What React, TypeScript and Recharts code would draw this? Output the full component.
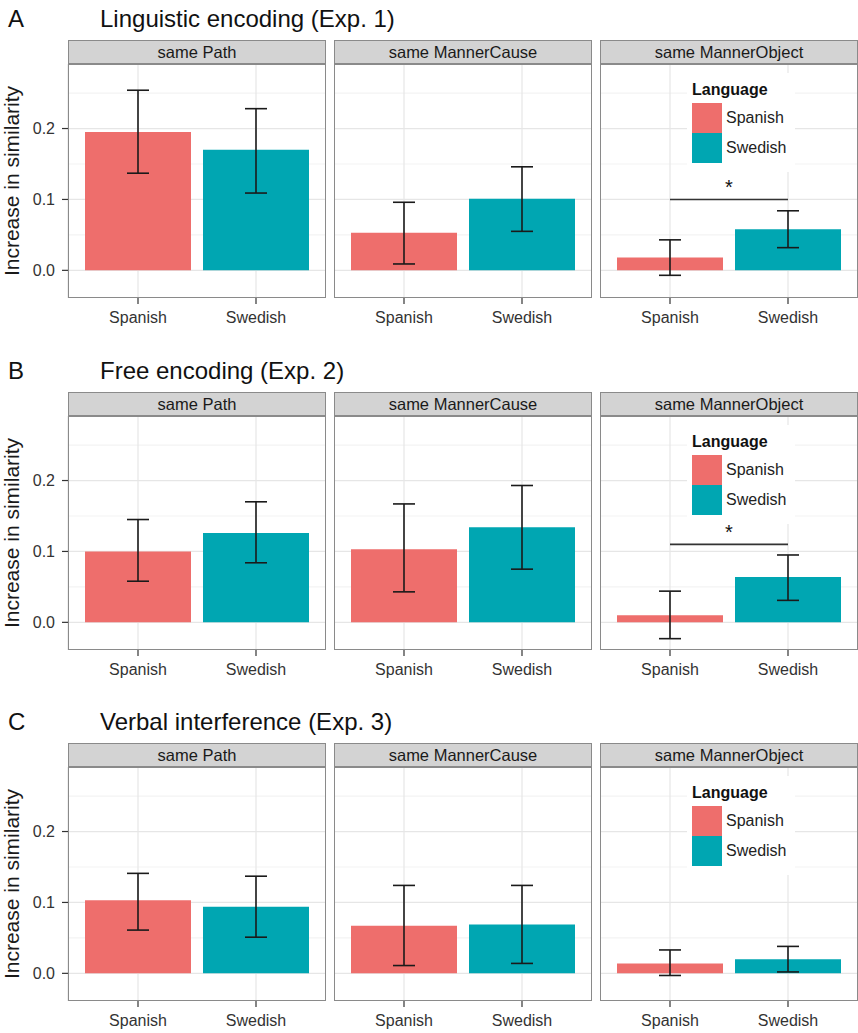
import React from 'react';
import { BarChart, Bar, XAxis, YAxis, CartesianGrid, ErrorBar, Cell, ReferenceLine, Legend } from 'recharts';

const panelLetters = ['A', 'B', 'C'];
const experimentTitles = ['Linguistic encoding (Exp. 1)', 'Free encoding (Exp. 2)', 'Verbal interference (Exp. 3)'];
const conditions = ['same Path', 'same MannerCause', 'same MannerObject'];
const languages = ['Spanish', 'Swedish'];
const languageColors = ['#EE6E6C', '#00A6B2'];

// per condition: [Spanish, Swedish]
const exp1Means = [[0.195, 0.17], [0.053, 0.101], [0.018, 0.058]];
const exp1Lower = [[0.137, 0.109], [0.009, 0.055], [-0.007, 0.032]];
const exp1Upper = [[0.254, 0.228], [0.096, 0.146], [0.043, 0.084]];

const exp2Means = [[0.1, 0.126], [0.103, 0.134], [0.01, 0.064]];
const exp2Lower = [[0.058, 0.084], [0.043, 0.075], [-0.023, 0.031]];
const exp2Upper = [[0.145, 0.17], [0.167, 0.193], [0.044, 0.095]];

const exp3Means = [[0.103, 0.094], [0.067, 0.069], [0.014, 0.02]];
const exp3Lower = [[0.061, 0.051], [0.011, 0.014], [-0.003, 0.002]];
const exp3Upper = [[0.141, 0.137], [0.124, 0.124], [0.033, 0.038]];

// height of the "*" bar in the MannerObject panel
const sigLevels = [0.1, 0.11, null];

const yTicks = [0, 0.1, 0.2];
const yMinorTicks = [0.05, 0.15, 0.25];
const Y_DOMAIN = [-0.039, 0.291];

const experiments = [
  { means: exp1Means, lower: exp1Lower, upper: exp1Upper },
  { means: exp2Means, lower: exp2Lower, upper: exp2Upper },
  { means: exp3Means, lower: exp3Lower, upper: exp3Upper },
];

const FONT = '"Liberation Sans", Arial, Helvetica, sans-serif';
const ROW_TOP = [0, 352, 703];
const PANEL_LEFT = [68, 334, 600];
const PANEL_W = 258;
const AXIS_W = 68;
const STRIP_TOP = 40;
const STRIP_H = 24;
const PLOT_TOP = 64;
const PLOT_H = 234;
const XAXIS_H = 34;
const BORDER = '#8a8a8a';

const LanguageLegend = () => (
  <div style={{ background: '#fff', width: 108, height: 99, boxSizing: 'border-box', padding: '7px 0 0 5px', fontFamily: FONT }}>
    <div style={{ fontWeight: 'bold', fontSize: 16, lineHeight: '20px', color: '#111', marginBottom: 3 }}>Language</div>
    {languages.map((lang, i) => (
      <div key={lang} style={{ display: 'flex', alignItems: 'center', height: 30 }}>
        <span style={{ width: 30, height: 30, background: languageColors[i], display: 'inline-block' }} />
        <span style={{ marginLeft: 4, fontSize: 16, color: '#222' }}>{lang}</span>
      </div>
    ))}
  </div>
);

function Facet({ exp, cond }: { exp: number; cond: number }) {
  const first = cond === 0;
  const e = experiments[exp];
  const data = languages.map((lang, i) => ({
    language: lang,
    value: e.means[cond][i],
    err: [e.means[cond][i] - e.lower[cond][i], e.upper[cond][i] - e.means[cond][i]],
  }));
  const left = PANEL_LEFT[cond] - (first ? AXIS_W : 0);
  const width = PANEL_W + (first ? AXIS_W : 0);
  const sig = cond === 2 ? sigLevels[exp] : null;

  return (
    <>
      <div
        style={{
          position: 'absolute', left: PANEL_LEFT[cond], top: STRIP_TOP, width: PANEL_W, height: STRIP_H,
          boxSizing: 'border-box', background: '#D3D3D3', border: `1px solid ${BORDER}`,
          fontSize: 16.5, lineHeight: `${STRIP_H - 2}px`, textAlign: 'center', color: '#1a1a1a',
        }}
      >
        {conditions[cond]}
      </div>
      <div style={{ position: 'absolute', left, top: PLOT_TOP }}>
        <BarChart width={width} height={PLOT_H + XAXIS_H} data={data} margin={{ top: 0, right: 0, bottom: 0, left: 0 }}>
          <CartesianGrid horizontalValues={yMinorTicks} vertical={false} stroke="#F3F3F3" strokeWidth={1.2} />
          <CartesianGrid horizontalValues={yTicks} stroke="#E6E6E6" strokeWidth={1.2} />
          <XAxis
            dataKey="language"
            padding={{ left: 11, right: 11 }}
            height={XAXIS_H}
            interval={0}
            tickSize={6}
            tickMargin={8}
            axisLine={false}
            tickLine={{ stroke: '#333', strokeWidth: 1.2 }}
            tick={{ fontSize: 16, fill: '#333', fontFamily: FONT }}
          />
          <YAxis
            hide={!first}
            width={first ? AXIS_W : 0}
            domain={Y_DOMAIN}
            allowDataOverflow
            ticks={yTicks}
            tickFormatter={(v: number) => v.toFixed(1)}
            tickSize={6}
            tickMargin={7}
            axisLine={false}
            tickLine={{ stroke: '#333', strokeWidth: 1.2 }}
            tick={{ fontSize: 16, fill: '#333', fontFamily: FONT }}
            label={
              first
                ? {
                    value: 'Increase in similarity',
                    angle: -90,
                    position: 'insideLeft',
                    offset: 12,
                    style: { textAnchor: 'middle', fontSize: 21, fill: '#1a1a1a', fontFamily: FONT },
                  }
                : undefined
            }
          />
          <Bar dataKey="value" barSize={106} isAnimationActive={false}>
            {data.map((d, i) => (
              <Cell key={d.language} fill={languageColors[i]} />
            ))}
            <ErrorBar dataKey="err" direction="y" width={11} stroke="#1a1a1a" strokeWidth={1.6} isAnimationActive={false} />
          </Bar>
          {sig !== null && (
            <ReferenceLine
              segment={[{ x: languages[0], y: sig }, { x: languages[1], y: sig }]}
              stroke="#333"
              strokeWidth={1.6}
              label={{ value: '*', position: 'top', fontSize: 20, fill: '#111', fontFamily: FONT }}
            />
          )}
          {cond === 2 && (
            <Legend
              layout="horizontal"
              verticalAlign="middle"
              align="center"
              wrapperStyle={{ left: 87, top: 9, width: 108 }}
              content={() => <LanguageLegend />}
            />
          )}
        </BarChart>
        <div
          style={{
            position: 'absolute', left: first ? AXIS_W : 0, top: 0, width: PANEL_W, height: PLOT_H,
            boxSizing: 'border-box', border: `1px solid ${BORDER}`, pointerEvents: 'none',
          }}
        />
      </div>
    </>
  );
}

export default function App() {
  return (
    <div style={{ position: 'absolute', left: 0, top: 0, width: 858, height: 1033, background: '#fff', fontFamily: FONT, overflow: 'hidden' }}>
      {ROW_TOP.map((top, exp) => (
        <div key={exp} style={{ position: 'absolute', left: 0, top, width: 858, height: 340 }}>
          <div style={{ position: 'absolute', left: 8, top: 7, fontSize: 24, lineHeight: '24px', color: '#111' }}>{panelLetters[exp]}</div>
          <div style={{ position: 'absolute', left: 100, top: 7, fontSize: 24, lineHeight: '24px', color: '#111' }}>{experimentTitles[exp]}</div>
          {conditions.map((c, cond) => (
            <Facet key={c} exp={exp} cond={cond} />
          ))}
        </div>
      ))}
    </div>
  );
}
